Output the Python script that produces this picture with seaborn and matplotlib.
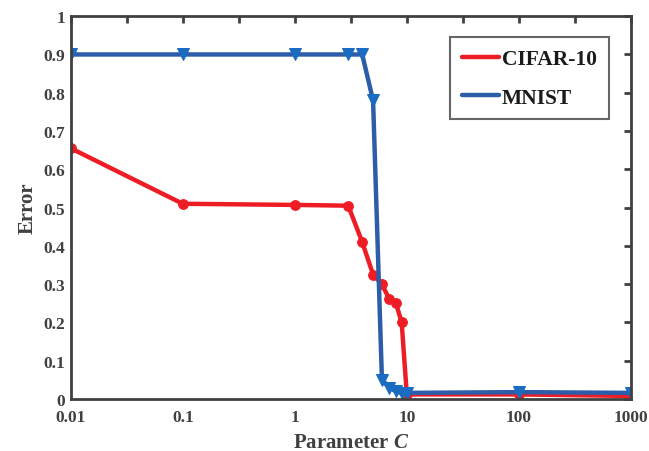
import numpy as np
import pandas as pd
import matplotlib
matplotlib.use('Agg')
import matplotlib.pyplot as plt
import seaborn as sns
from matplotlib.ticker import FixedLocator, NullFormatter

C = [0.01, 0.1, 1, 3, 4, 5, 6, 7, 8, 9, 10, 100, 1000]
cifar = [0.655, 0.51, 0.507, 0.505, 0.41, 0.325, 0.30, 0.26, 0.25, 0.20, 0.012, 0.012, 0.008]
mnist = [0.90, 0.90, 0.90, 0.90, 0.90, 0.78, 0.05, 0.03, 0.02, 0.016, 0.016, 0.018, 0.016]
xticks = [0.01, 0.1, 1, 10, 100, 1000]
xticklabels = ['0.01', '0.1', '1', '10', '100', '1000']

df = pd.DataFrame({'C': C * 2, 'Error': cifar + mnist,
                   'set': ['CIFAR-10'] * len(C) + ['MNIST'] * len(C)})

sns.set_style('white')
plt.rcParams['font.family'] = ['Liberation Serif', 'DejaVu Serif']
plt.rcParams['font.weight'] = 'bold'
plt.rcParams['mathtext.fontset'] = 'custom'
plt.rcParams['mathtext.it'] = 'Liberation Serif:italic:bold'

dark = '#404040'
red = '#ee1d25'
blue = '#2d5ca8'
mblue = '#1a6cc0'

fig = plt.figure(figsize=(6.49, 4.52), dpi=100)
ax = fig.add_axes([0.109, 0.115, 0.863, 0.847])

sns.lineplot(data=df[df.set == 'CIFAR-10'], x='C', y='Error', ax=ax, color=red,
             lw=3.2, marker='o', ms=7, mfc=red, mec=red, label='CIFAR-10')
sns.lineplot(data=df[df.set == 'MNIST'], x='C', y='Error', ax=ax, color=blue,
             lw=3.2, marker='v', ms=8, mfc=mblue, mec=mblue, label='MNIST')

ax.set_xscale('log')
ax.set_xlim(0.01, 1000)
ax.set_ylim(0, 1)
ax.xaxis.set_major_locator(FixedLocator(xticks))
ax.set_xticklabels(xticklabels)
ax.xaxis.set_minor_locator(FixedLocator([10 ** (k + 0.5) for k in range(-2, 3)]))
ax.xaxis.set_minor_formatter(NullFormatter())
ax.set_yticks(np.arange(0, 1.01, 0.1))
ax.set_yticklabels(['0'] + ['%.1f' % v for v in np.arange(0.1, 0.95, 0.1)] + ['1'])

ax.tick_params(which='both', direction='in', top=True, right=True, length=5,
               width=2, color=dark, labelsize=12.5, labelcolor=dark)
ax.tick_params(axis='x', pad=7)
ax.tick_params(axis='y', pad=4)
for s in ax.spines.values():
    s.set_color(dark)
    s.set_linewidth(2)

ax.set_xlabel('Parameter $C$', fontsize=15, fontweight='bold', color=dark, labelpad=5)
ax.set_ylabel('Error', fontsize=15, fontweight='bold', color=dark, labelpad=4)

leg = ax.legend(loc='upper right', bbox_to_anchor=(0.961, 0.945), borderaxespad=0,
                fontsize=15.5, frameon=True, fancybox=False, handlelength=1.7,
                handletextpad=0.15, borderpad=0.55, labelspacing=0.85)
leg.get_frame().set_edgecolor(dark)
leg.get_frame().set_linewidth(1.5)
for h in leg.get_lines():
    h.set_marker('')
for t in leg.get_texts():
    t.set_color('#1a1a1a')
    t.set_fontweight('bold')

fig.savefig('out.png', dpi=100)
